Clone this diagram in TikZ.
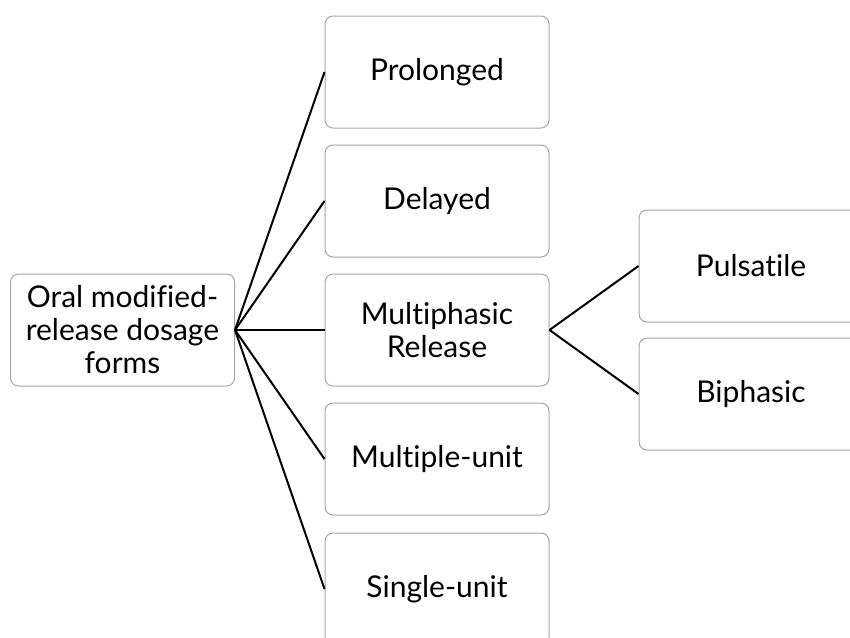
\documentclass[tikz,border=0pt]{standalone}
\usepackage{fontspec}
\setmainfont[Ligatures=NoCommon]{Lato}
\begin{document}
\begin{tikzpicture}[x=0.5pt, y=-0.5pt, thick,
    box/.style = {draw=black!35, line width=0.5pt, rounded corners=4pt, fill=white,
        minimum width=112pt, minimum height=56pt, align=center,
        font=\fontsize{15}{16.5}\selectfont},
    link/.style = {black, line width=1pt}]

    \clip (0,0) rectangle (850,637);

    \node [box] (oral) at (122.5, 330) {Oral modified-\\release dosage\\forms};

    \node [box] (prolonged) at (437, 72) {Prolonged};
    \node [box] (delayed) at (437, 201) {Delayed};
    \node [box] (multiphasic) at (437, 330) {Multiphasic\\Release};
    \node [box] (multiple) at (437, 459) {Multiple-unit};
    \node [box] (single) at (437, 589) {Single-unit};

    \node [box] (pulsatile) at (751, 266) {Pulsatile};
    \node [box] (biphasic) at (751, 394) {Biphasic};

    \draw[link] (oral.east) to (prolonged.west);
    \draw[link] (oral.east) to (delayed.west);
    \draw[link] (oral.east) to (multiphasic.west);
    \draw[link] (oral.east) to (multiple.west);
    \draw[link] (oral.east) to (single.west);
    \draw[link] (multiphasic.east) to (pulsatile.west);
    \draw[link] (multiphasic.east) to (biphasic.west);

\end{tikzpicture}
\end{document}
